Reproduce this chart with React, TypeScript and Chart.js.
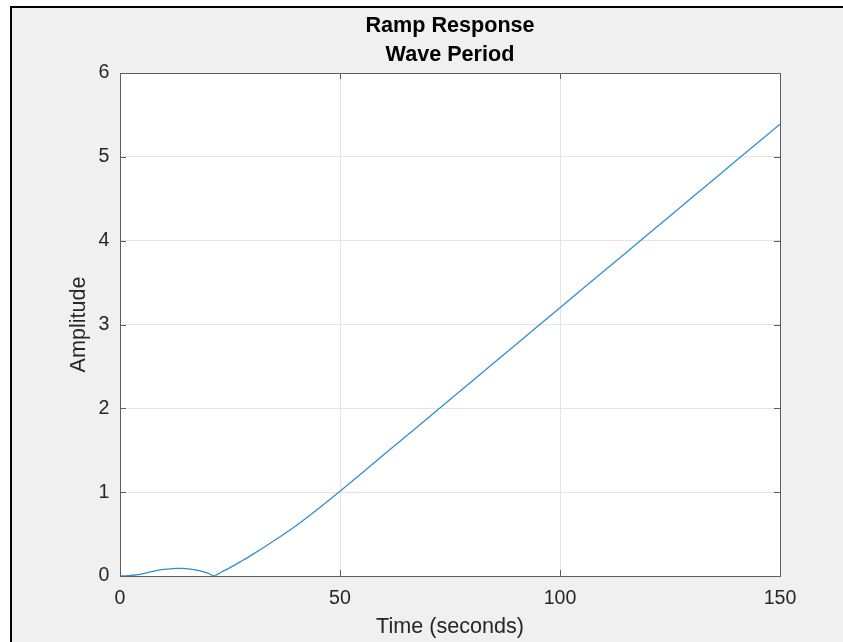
import React, { useEffect, useRef } from "react";
import { Chart, registerables } from "chart.js";

Chart.register(...registerables);

const titleLines = ["Ramp Response", "Wave Period"];
const xLabel = "Time (seconds)";
const yLabel = "Amplitude";

const timeValues = [
  0, 2, 4, 6, 8, 10, 12, 13, 14, 16, 18, 20, 21.4, 23, 25, 27.5, 30, 35, 40, 45,
  50, 60, 70, 80, 90, 100, 110, 120, 130, 140, 150,
];
const amplitudeValues = [
  0, 0.004, 0.016, 0.038, 0.06, 0.078, 0.089, 0.092, 0.091, 0.083, 0.065, 0.035,
  0, 0.045, 0.1, 0.175, 0.252, 0.42, 0.6, 0.8, 1.01, 1.448, 1.886, 2.324, 2.762,
  3.2, 3.638, 4.076, 4.514, 4.952, 5.39,
];

const xTicks = [0, 50, 100, 150];
const yTicks = [0, 1, 2, 3, 4, 5, 6];

const FONT = "'Liberation Sans', Arial, Helvetica, sans-serif";
const AXIS_COLOR = "#5e5e5e";
const TEXT_COLOR = "#262626";

const boxPlugin = {
  id: "matlabBox",
  beforeDraw(chart: any) {
    const { ctx, chartArea } = chart;
    ctx.save();
    ctx.fillStyle = "#ffffff";
    ctx.fillRect(chartArea.left, chartArea.top, chartArea.right - chartArea.left, chartArea.bottom - chartArea.top);
    ctx.restore();
  },
  afterDraw(chart: any) {
    const { ctx, chartArea, scales } = chart;
    const { left, right, top, bottom } = chartArea;
    ctx.save();
    ctx.strokeStyle = AXIS_COLOR;
    ctx.lineWidth = 1;
    ctx.strokeRect(left + 0.5, top + 0.5, right - left, bottom - top);
    const tl = 6;
    ctx.beginPath();
    xTicks.forEach((v) => {
      const px = Math.round(scales.x.getPixelForValue(v)) + 0.5;
      ctx.moveTo(px, bottom);
      ctx.lineTo(px, bottom - tl);
      ctx.moveTo(px, top);
      ctx.lineTo(px, top + tl);
    });
    yTicks.forEach((v) => {
      const py = Math.round(scales.y.getPixelForValue(v)) + 0.5;
      ctx.moveTo(left, py);
      ctx.lineTo(left + tl, py);
      ctx.moveTo(right, py);
      ctx.lineTo(right - tl, py);
    });
    ctx.stroke();
    ctx.restore();
  },
};

export default function App() {
  const canvasRef = useRef<HTMLCanvasElement | null>(null);

  useEffect(() => {
    const canvas = canvasRef.current;
    if (!canvas) return;
    const points = timeValues.map((t, i) => ({ x: t, y: amplitudeValues[i] }));
    const chart = new Chart(canvas, {
      type: "line",
      data: {
        datasets: [
          {
            data: points,
            borderColor: "#2f8fd3",
            borderWidth: 1.3,
            pointRadius: 0,
            tension: 0.2,
            fill: false,
          },
        ],
      },
      options: {
        animation: false,
        responsive: false,
        devicePixelRatio: 1,
        events: [],
        layout: { padding: { left: 0, right: 63, top: 0, bottom: 0 } },
        plugins: {
          legend: { display: false },
          tooltip: { enabled: false },
          title: {
            display: true,
            fullSize: false,
            text: titleLines,
            color: "#000000",
            font: { family: FONT, size: 21.6, weight: "bold", lineHeight: 29.5 / 21.6 },
            padding: { top: 11, bottom: 3 },
          },
        },
        scales: {
          x: {
            type: "linear",
            min: 0,
            max: 150,
            afterFit(scale: any) {
              scale.height = 66;
            },
            afterBuildTicks(scale: any) {
              scale.ticks = xTicks.map((v) => ({ value: v }));
            },
            ticks: {
              color: TEXT_COLOR,
              font: { family: FONT, size: 19.6 },
              padding: 10.7,
              maxRotation: 0,
            },
            grid: { color: "#e3e3e3", lineWidth: 1, drawTicks: false },
            border: { display: false },
            title: {
              display: true,
              text: xLabel,
              color: TEXT_COLOR,
              font: { family: FONT, size: 21.6 },
              padding: { top: 0, bottom: 1.8 },
            },
          },
          y: {
            type: "linear",
            min: 0,
            max: 6,
            afterFit(scale: any) {
              scale.width = 120;
            },
            afterBuildTicks(scale: any) {
              scale.ticks = yTicks.map((v) => ({ value: v }));
            },
            ticks: {
              color: TEXT_COLOR,
              font: { family: FONT, size: 19.6 },
              padding: 10.5,
            },
            grid: { color: "#e3e3e3", lineWidth: 1, drawTicks: false },
            border: { display: false },
            title: {
              display: true,
              text: yLabel,
              color: TEXT_COLOR,
              font: { family: FONT, size: 21.6 },
              padding: { top: 66.5, bottom: 0 },
            },
          },
        },
      },
      plugins: [boxPlugin],
    });
    return () => chart.destroy();
  }, []);

  return (
    <div
      style={{
        position: "absolute",
        left: 0,
        top: 0,
        width: 843,
        height: 642,
        background: "#ffffff",
        overflow: "hidden",
      }}
    >
      <div
        style={{
          position: "absolute",
          left: 10,
          top: 6,
          width: 833,
          height: 636,
          boxSizing: "border-box",
          borderTop: "2px solid #000000",
          borderLeft: "2px solid #000000",
          background: "#f0f0f0",
        }}
      />
      <canvas
        ref={canvasRef}
        width={843}
        height={642}
        style={{ position: "absolute", left: 0, top: 0, width: 843, height: 642 }}
      />
    </div>
  );
}
